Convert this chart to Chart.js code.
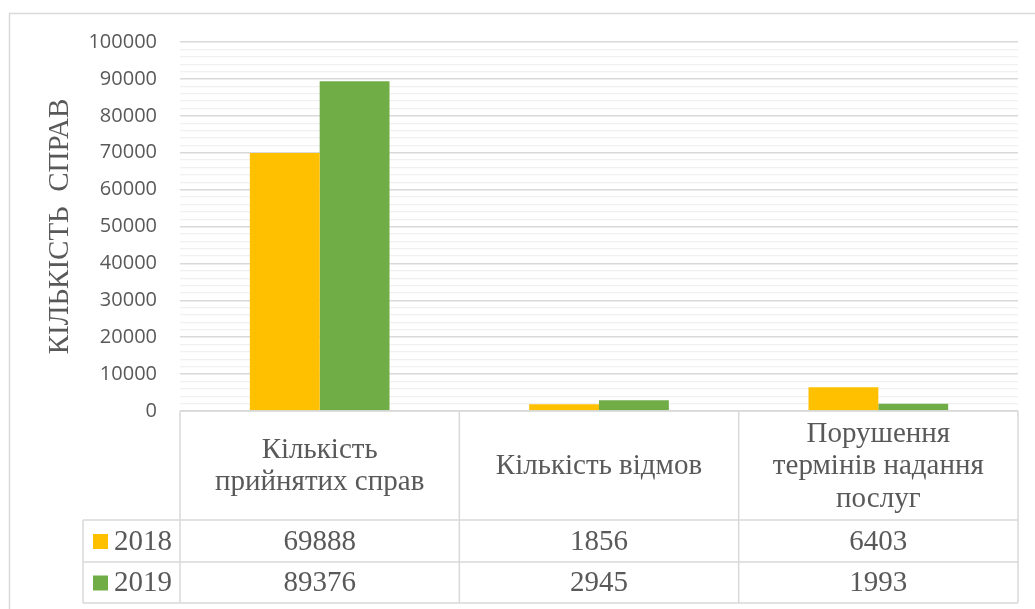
<!DOCTYPE html>
<html>
<head>
<meta charset="utf-8">
<script src="https://cdn.jsdelivr.net/npm/chart.js@4.4.1/dist/chart.umd.min.js"></script>
<style>
  html, body { margin: 0; padding: 0; background: #fff; }
  #wrap { width: 1035px; height: 609px; }
</style>
</head>
<body>
<div id="wrap"><canvas id="barChart" width="1035" height="609"></canvas></div>
<script>
// categories (multi-line labels), years and values
const categories = [
  ["Кількість", "прийнятих справ"],
  ["Кількість відмов"],
  ["Порушення", "термінів надання", "послуг"]
];
const years = ["2018", "2019"];
const values2018 = [69888, 1856, 6403];
const values2019 = [89376, 2945, 1993];
const yMax = 100000;
const yStep = 2000;     // minor grid
const yLabelStep = 10000;

const textColor = "#595959";
const lineColor = "#d9d9d9";
const serif = "'Liberation Serif', 'Times New Roman', serif";

// outer border of the chart
const borderPlugin = {
  id: "outerBorder",
  beforeDraw(chart) {
    const ctx = chart.ctx;
    ctx.save();
    ctx.fillStyle = "#fff";
    ctx.fillRect(0, 0, chart.width, chart.height);
    ctx.strokeStyle = lineColor;
    ctx.lineWidth = 1.5;
    ctx.strokeRect(9.5, 13.5, 1200, 800);
    ctx.restore();
  }
};

// data table under the plot, columns taken from the x scale
const tablePlugin = {
  id: "dataTable",
  afterDraw(chart) {
    const ctx = chart.ctx;
    const x = chart.scales.x;
    const n = chart.data.labels.length;
    const colW = (x.right - x.left) / n;
    const left = x.left, right = x.right;
    const top = chart.chartArea.bottom;
    const headBottom = top + 109;
    const rowH = [42, 41];
    const legendLeft = 83;

    ctx.save();
    ctx.strokeStyle = lineColor;
    ctx.lineWidth = 1.5;
    ctx.beginPath();
    // horizontal lines
    ctx.moveTo(left, top); ctx.lineTo(right, top);
    let yy = headBottom;
    ctx.moveTo(legendLeft, yy); ctx.lineTo(right, yy);
    rowH.forEach(h => { yy += h; ctx.moveTo(legendLeft, yy); ctx.lineTo(right, yy); });
    const bottom = yy;
    // vertical lines
    for (let i = 0; i <= n; i++) {
      const cx = left + i * colW;
      ctx.moveTo(cx, top); ctx.lineTo(cx, bottom);
    }
    ctx.moveTo(legendLeft, headBottom); ctx.lineTo(legendLeft, bottom);
    ctx.stroke();

    ctx.fillStyle = textColor;
    ctx.font = "29px " + serif;
    ctx.textAlign = "center";
    ctx.textBaseline = "middle";
    const lh = 32.5;
    const headMid = (top + headBottom) / 2 + 1;
    chart.data.labels.forEach((lab, i) => {
      const lines = Array.isArray(lab) ? lab : [lab];
      const cx = x.getPixelForValue(i);
      lines.forEach((t, k) => {
        ctx.fillText(t, cx, headMid + (k - (lines.length - 1) / 2) * lh);
      });
    });

    let rowTop = headBottom;
    chart.data.datasets.forEach((ds, d) => {
      const mid = rowTop + rowH[d] / 2 + 1;
      ctx.fillStyle = ds.backgroundColor;
      ctx.fillRect(93, mid - 8, 15, 15);
      ctx.fillStyle = textColor;
      ctx.textAlign = "left";
      ctx.fillText(ds.label, 114, mid);
      ctx.textAlign = "center";
      ds.data.forEach((v, i) => {
        ctx.fillText(String(v), x.getPixelForValue(i), mid);
      });
      rowTop += rowH[d];
    });
    ctx.restore();
  }
};

const chart = new Chart(document.getElementById("barChart"), {
  type: "bar",
  data: {
    labels: categories,
    datasets: [
      { label: years[0], data: values2018, backgroundColor: "#FFC000" },
      { label: years[1], data: values2019, backgroundColor: "#70AD47" }
    ]
  },
  options: {
    responsive: false,
    devicePixelRatio: 1,
    animation: false,
    layout: { padding: { top: 42, right: 17, bottom: 198, left: 0 } },
    datasets: {
      bar: { categoryPercentage: 0.5, barPercentage: 1.0 }
    },
    plugins: {
      legend: { display: false },
      tooltip: { enabled: false }
    },
    scales: {
      x: { display: false },
      y: {
        min: 0,
        max: yMax,
        border: { display: false },
        afterFit(scale) { scale.width = 180; },
        grid: {
          drawTicks: false,
          color: ctx => (ctx.tick && ctx.tick.value % yLabelStep === 0) ? "#d9d9d9" : "#f0f0f0",
          lineWidth: ctx => (ctx.tick && ctx.tick.value % yLabelStep === 0) ? 1.5 : 1.2
        },
        ticks: {
          stepSize: yStep,
          autoSkip: false,
          padding: 23,
          color: textColor,
          font: { family: "'Open Sans', sans-serif", size: 20 },
          callback: v => (v % yLabelStep === 0 ? v : "")
        },
        title: {
          display: true,
          text: "КІЛЬКІСТЬ  СПРАВ",
          color: textColor,
          font: { family: serif, size: 29 },
          padding: { top: 43, bottom: 0 }
        }
      }
    }
  },
  plugins: [borderPlugin, tablePlugin]
});
</script>
</body>
</html>
